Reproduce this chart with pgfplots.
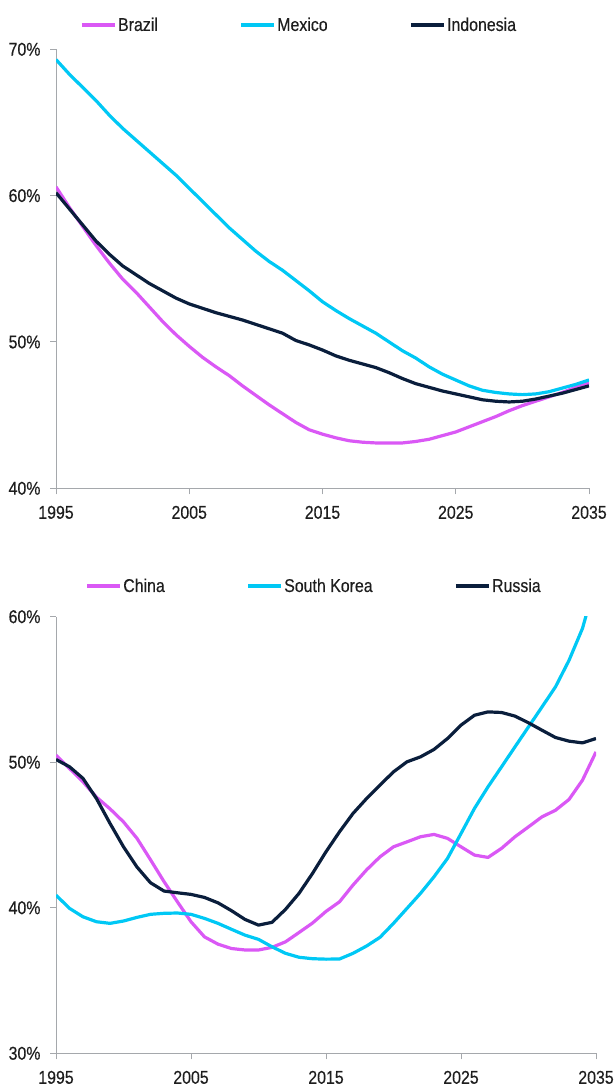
\documentclass[border=0pt]{standalone}
\usepackage{fontspec}
\setmainfont{Liberation Sans}[FakeStretch=0.86, FakeBold=0.35]
\usepackage{pgfplots}
\pgfplotsset{compat=1.18}
\definecolor{cMag}{RGB}{218,88,245}
\definecolor{cCyan}{RGB}{0,200,245}
\definecolor{cNavy}{RGB}{10,30,60}
\definecolor{cAxis}{RGB}{165,168,172}
\definecolor{cText}{RGB}{30,30,30}
\pgfplotsset{
  myaxis/.style={
    scale only axis,
    axis lines=left,
    axis line style={-, cAxis, line width=1pt},
    tick style={cAxis, line width=1pt},
    tick align=outside,
    major tick length=6pt,
    xmin=1995, xmax=2035,
    xtick={1995,2005,2015,2025,2035},
    xticklabels={1995,2005,2015,2025,2035},
    ticklabel style={text=cText},
    yticklabel style={xshift=-6pt},
    xticklabel style={yshift=-8pt},
    clip=true,
    legend columns=3,
    legend style={draw=none, fill=none, inner sep=0pt, text=cText,
      nodes={inner sep=1.5pt},
      /tikz/every even column/.append style={column sep=80pt}},
    legend image code/.code={\draw[#1, line width=3.4pt] (0pt,0pt) -- (33pt,0pt);},
    every axis plot/.append style={line width=3.2pt, line join=round},
  }
}
\begin{document}
\begin{tikzpicture}[font=\fontsize{18.5}{21}\selectfont]
\useasboundingbox (0,0) rectangle (613pt,-1086pt);
% ---------- top panel ----------
\begin{axis}[myaxis,
  at={(56pt,-488.3pt)}, anchor=south west,
  width=533pt, height=439pt,
  ymin=40, ymax=70,
  ytick={40,50,60,70},
  yticklabels={40\%,50\%,60\%,70\%},
  legend style={at={(0.045,1.0554)}, anchor=west},
]
\addplot[cMag] coordinates {
(1995,60.6)(1996,59.2)(1997,57.9)(1998,56.6)(1999,55.4)(2000,54.3)(2001,53.4)(2002,52.4)(2003,51.4)(2004,50.5)
(2005,49.7)(2006,48.95)(2007,48.3)(2008,47.7)(2009,47.0)(2010,46.35)(2011,45.7)(2012,45.1)(2013,44.5)(2014,44.0)
(2015,43.7)(2016,43.45)(2017,43.25)(2018,43.15)(2019,43.1)(2020,43.1)(2021,43.1)(2022,43.2)(2023,43.35)(2024,43.6)
(2025,43.85)(2026,44.2)(2027,44.55)(2028,44.9)(2029,45.3)(2030,45.65)(2031,45.95)(2032,46.25)(2033,46.55)(2034,46.9)(2035,47.2)
};
\addlegendentry{Brazil}
\addplot[cCyan] coordinates {
(1995,69.3)(1996,68.3)(1997,67.4)(1998,66.5)(1999,65.5)(2000,64.6)(2001,63.8)(2002,63.0)(2003,62.2)(2004,61.4)
(2005,60.5)(2006,59.6)(2007,58.7)(2008,57.8)(2009,57.0)(2010,56.2)(2011,55.5)(2012,54.9)(2013,54.2)(2014,53.5)
(2015,52.75)(2016,52.15)(2017,51.6)(2018,51.1)(2019,50.6)(2020,50.0)(2021,49.4)(2022,48.9)(2023,48.3)(2024,47.8)
(2025,47.4)(2026,47.0)(2027,46.7)(2028,46.55)(2029,46.45)(2030,46.4)(2031,46.45)(2032,46.6)(2033,46.85)(2034,47.1)(2035,47.4)
};
\addlegendentry{Mexico}
\addplot[cNavy] coordinates {
(1995,60.2)(1996,59.1)(1997,58.0)(1998,56.9)(1999,56.0)(2000,55.2)(2001,54.6)(2002,54.0)(2003,53.5)(2004,53.0)
(2005,52.6)(2006,52.3)(2007,52.0)(2008,51.75)(2009,51.5)(2010,51.2)(2011,50.9)(2012,50.6)(2013,50.1)(2014,49.8)
(2015,49.45)(2016,49.05)(2017,48.75)(2018,48.5)(2019,48.25)(2020,47.9)(2021,47.5)(2022,47.15)(2023,46.9)(2024,46.65)
(2025,46.45)(2026,46.25)(2027,46.05)(2028,45.95)(2029,45.9)(2030,45.95)(2031,46.1)(2032,46.3)(2033,46.5)(2034,46.75)(2035,47.0)
};
\addlegendentry{Indonesia}
\end{axis}
% ---------- bottom panel ----------
\begin{axis}[myaxis,
  at={(56pt,-1053.3pt)}, anchor=south west,
  width=540pt, height=436.6pt,
  ymin=30, ymax=60,
  ytick={30,40,50,60},
  yticklabels={30\%,40\%,50\%,60\%},
  legend style={at={(0.054,1.0703)}, anchor=west},
]
\addplot[cMag] coordinates {
(1995,50.49)(1996,49.57)(1997,48.65)(1998,47.6)(1999,46.8)(2000,45.9)(2001,44.77)(2002,43.3)(2003,41.8)(2004,40.4)
(2005,39.04)(2006,38.0)(2007,37.5)(2008,37.2)(2009,37.1)(2010,37.1)(2011,37.28)(2012,37.66)(2013,38.3)(2014,38.95)
(2015,39.75)(2016,40.41)(2017,41.56)(2018,42.6)(2019,43.5)(2020,44.19)(2021,44.53)(2022,44.88)(2023,45.04)(2024,44.77)
(2025,44.19)(2026,43.62)(2027,43.46)(2028,44.08)(2029,44.88)(2030,45.56)(2031,46.25)(2032,46.7)(2033,47.44)(2034,48.77)(2035,50.71)
};
\addlegendentry{China}
\addplot[cCyan] coordinates {
(1995,40.87)(1996,39.96)(1997,39.38)(1998,39.04)(1999,38.93)(2000,39.09)(2001,39.34)(2002,39.55)(2003,39.62)(2004,39.64)
(2005,39.55)(2006,39.27)(2007,38.93)(2008,38.52)(2009,38.12)(2010,37.83)(2011,37.32)(2012,36.87)(2013,36.6)(2014,36.5)
(2015,36.47)(2016,36.48)(2017,36.87)(2018,37.37)(2019,37.97)(2020,38.93)(2021,39.96)(2022,40.99)(2023,42.13)(2024,43.39)
(2025,45.1)(2026,46.83)(2027,48.31)(2028,49.68)(2029,51.06)(2030,52.43)(2031,53.8)(2032,55.18)(2033,57.0)(2034,59.2)(2035,62.5)
};
\addlegendentry{South Korea}
\addplot[cNavy] coordinates {
(1995,50.19)(1996,49.69)(1997,48.89)(1998,47.5)(1999,45.8)(2000,44.19)(2001,42.8)(2002,41.72)(2003,41.15)(2004,41.03)
(2005,40.92)(2006,40.71)(2007,40.34)(2008,39.8)(2009,39.2)(2010,38.81)(2011,39.0)(2012,39.89)(2013,40.99)(2014,42.36)
(2015,43.85)(2016,45.22)(2017,46.48)(2018,47.5)(2019,48.43)(2020,49.34)(2021,50.03)(2022,50.37)(2023,50.88)(2024,51.63)
(2025,52.55)(2026,53.23)(2027,53.46)(2028,53.42)(2029,53.17)(2030,52.71)(2031,52.2)(2032,51.7)(2033,51.45)(2034,51.33)(2035,51.63)
};
\addlegendentry{Russia}
\end{axis}
\end{tikzpicture}
\end{document}
